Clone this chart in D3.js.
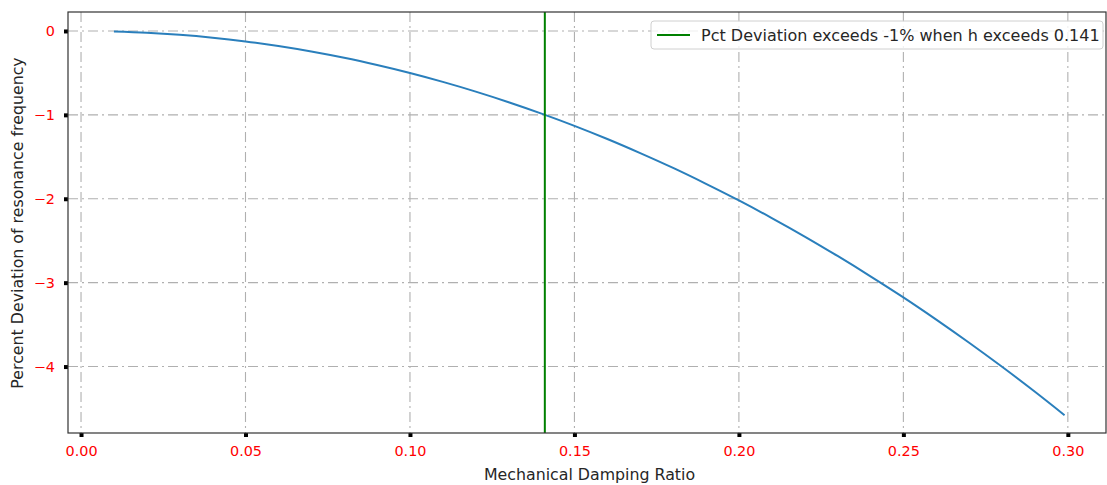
<!DOCTYPE html>
<html>
<head>
<meta charset="utf-8">
<script src="https://cdn.jsdelivr.net/npm/d3@7"></script>
<style>
  body { margin: 0; background: #fff; }
  text { font-family: "DejaVu Sans", sans-serif; }
</style>
</head>
<body>
<div id="chart"></div>
<script>
// damping ratio h and percent deviation
const dampingRatio = [0.01, 0.02, 0.03, 0.04, 0.05, 0.06, 0.07, 0.08, 0.09, 0.10,
                      0.11, 0.12, 0.13, 0.14, 0.15, 0.16, 0.17, 0.18, 0.19, 0.20,
                      0.21, 0.22, 0.23, 0.24, 0.25, 0.26, 0.27, 0.28, 0.29, 0.299];
const pctDeviation = [-0.005, -0.02, -0.045, -0.08, -0.125, -0.18, -0.245, -0.32, -0.406, -0.501,
                      -0.607, -0.723, -0.849, -0.985, -1.131, -1.288, -1.456, -1.633, -1.822, -2.02,
                      -2.23, -2.45, -2.682, -2.924, -3.175, -3.44, -3.716, -4.003, -4.301, -4.58];
const xTicks = [0.00, 0.05, 0.10, 0.15, 0.20, 0.25, 0.30];
const yTicks = [0, -1, -2, -3, -4];
const threshold = 0.141;
const legendLabel = "Pct Deviation exceeds -1% when h exceeds 0.141";

let w = 1107,
    h = 485;

let margin = { top: 12, bottom: 52, left: 68, right: 1 };

let svg = d3.select("#chart")
            .append("svg")
            .attr("width", w)
            .attr("height", h);

let x = d3.scaleLinear()
          .domain([-0.00396, 0.3116])
          .range([margin.left, w - margin.right]);

let y = d3.scaleLinear()
          .domain([-4.792, 0.226])
          .range([h - margin.bottom, margin.top]);

// dash-dot grid
let grid = svg.append("g");
grid.selectAll(".vgrid")
    .data(xTicks)
    .enter()
    .append("line")
    .attr("x1", d => x(d)).attr("x2", d => x(d))
    .attr("y1", margin.top).attr("y2", h - margin.bottom)
    .attr("stroke", "#b0b0b0")
    .attr("stroke-width", 1.1)
    .attr("stroke-dasharray", "10,4,2,4");
grid.selectAll(".hgrid")
    .data(yTicks)
    .enter()
    .append("line")
    .attr("y1", d => y(d)).attr("y2", d => y(d))
    .attr("x1", margin.left).attr("x2", w - margin.right)
    .attr("stroke", "#b0b0b0")
    .attr("stroke-width", 1.1)
    .attr("stroke-dasharray", "10,4,2,4");

// curve
let line = d3.line()
             .x((d, i) => x(dampingRatio[i]))
             .y(d => y(d))
             .curve(d3.curveMonotoneX);

svg.append("path")
   .datum(pctDeviation)
   .attr("d", line)
   .attr("fill", "none")
   .attr("stroke", "#2a7fbc")
   .attr("stroke-width", 2);

// threshold line
svg.append("line")
   .attr("x1", x(threshold)).attr("x2", x(threshold))
   .attr("y1", margin.top).attr("y2", h - margin.bottom)
   .attr("stroke", "#008000")
   .attr("stroke-width", 2);

// axes
let xAxis = svg.append("g")
               .attr("transform", `translate(0, ${h - margin.bottom})`)
               .call(d3.axisBottom(x).tickValues(xTicks).tickFormat(d3.format(".2f")).tickSize(4).tickPadding(9));
let yAxis = svg.append("g")
               .attr("transform", `translate(${margin.left}, 0)`)
               .call(d3.axisLeft(y).tickValues(yTicks).tickFormat(d => d < 0 ? "\u2212" + Math.abs(d) : d).tickSize(4).tickPadding(9));

[xAxis, yAxis].forEach(a => {
  a.select(".domain").remove();
  a.selectAll(".tick line").attr("stroke", "#000").attr("stroke-width", 4);
  a.selectAll(".tick text").attr("fill", "#ff0000").style("font-size", "14.4px");
});

// frame
svg.append("rect")
   .attr("x", margin.left).attr("y", margin.top)
   .attr("width", w - margin.right - margin.left)
   .attr("height", h - margin.bottom - margin.top)
   .attr("fill", "none")
   .attr("stroke", "#333")
   .attr("stroke-width", 1.2);

// axis labels
svg.append("text")
   .attr("x", 589.5)
   .attr("y", 480)
   .attr("text-anchor", "middle")
   .style("font-size", "15.8px")
   .attr("fill", "#262626")
   .text("Mechanical Damping Ratio");

svg.append("text")
   .attr("transform", "translate(23, 223) rotate(-90)")
   .attr("text-anchor", "middle")
   .style("font-size", "15.8px")
   .attr("fill", "#262626")
   .text("Percent Deviation of resonance frequency");

// legend
let legend = svg.append("g").attr("transform", "translate(651, 21)");
legend.append("rect")
      .attr("width", 452).attr("height", 28).attr("rx", 3)
      .attr("fill", "#fff").attr("fill-opacity", 0.8)
      .attr("stroke", "#d0d0d0");
legend.append("line")
      .attr("x1", 6).attr("x2", 39).attr("y1", 14).attr("y2", 14)
      .attr("stroke", "#008000").attr("stroke-width", 2);
legend.append("text")
      .attr("x", 50).attr("y", 19.5)
      .style("font-size", "16px")
      .attr("fill", "#262626")
      .text(legendLabel);
</script>
</body>
</html>
